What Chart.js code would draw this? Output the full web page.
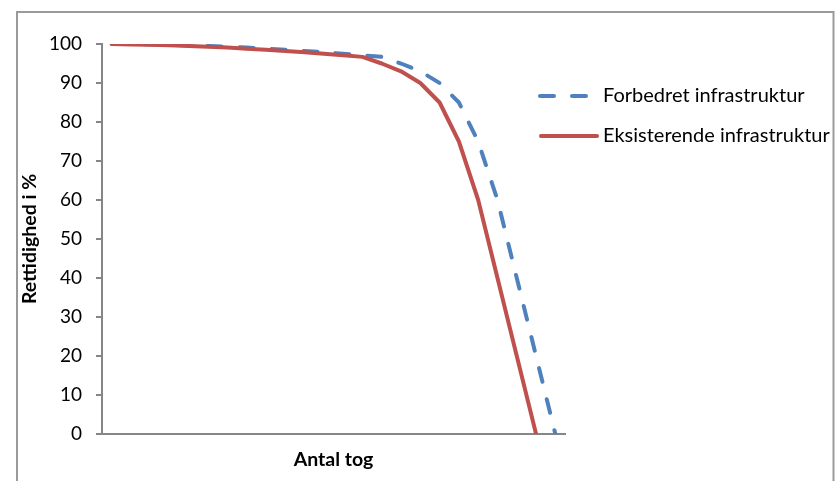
<!DOCTYPE html>
<html>
<head>
<meta charset="utf-8">
<script src="https://cdn.jsdelivr.net/npm/chart.js@4"></script>
<style>
  html, body { margin: 0; padding: 0; background: #fff; }
  #wrap { width: 835px; height: 481px; position: relative; }
</style>
</head>
<body>
<div id="wrap"><canvas id="chart"></canvas></div>
<script>
// Categories on the x axis (no labels shown in the original)
const categories = ['1','2','3','4','5','6','7','8','9','10','11','12',
                    '13','14','15','16','17','18','19','20','21','22','23','24'];

// Forbedret infrastruktur (blue, dashed)
const forbedret = [100, 100, 99.9, 99.8, 99.7, 99.5, 99.3, 99.1, 98.8, 98.5, 98.2, 97.9,
                   97.5, 97.1, 96.7, 95, 93, 90, 85, 75, 60, 40, 20, 0];

// Eksisterende infrastruktur (red, solid)
const eksisterende = [100, 99.9, 99.8, 99.7, 99.5, 99.3, 99.1, 98.8, 98.5, 98.2, 97.9, 97.5,
                      97.1, 96.7, 95, 93, 90, 85, 75, 60, 40, 20, 0, null];

const yTicks = [0, 10, 20, 30, 40, 50, 60, 70, 80, 90, 100];

const BLUE = '#4F81BD';
const RED = '#C0504D';
const AXIS = '#868686';

// Frame around the chart (top, left, right edges)
const framePlugin = {
    id: 'frame',
    beforeDraw(chart) {
        const ctx = chart.ctx;
        ctx.save();
        ctx.strokeStyle = '#9a9a9a';
        ctx.lineWidth = 2;
        ctx.beginPath();
        ctx.moveTo(17, 481);
        ctx.lineTo(17, 12);
        ctx.lineTo(833.5, 12);
        ctx.lineTo(833.5, 481);
        ctx.stroke();
        ctx.restore();
    }
};

// Legend drawn to the right, overlapping the plot's right edge like the original
const legendPlugin = {
    id: 'sideLegend',
    afterDraw(chart) {
        const ctx = chart.ctx;
        const items = [
            { ds: chart.data.datasets[0], y: 96, x1: 540, x2: 588 },
            { ds: chart.data.datasets[1], y: 136, x1: 541, x2: 597 }
        ];
        ctx.save();
        items.forEach(item => {
            ctx.strokeStyle = item.ds.borderColor;
            ctx.lineWidth = item.ds.borderWidth;
            ctx.lineCap = 'round';
            ctx.setLineDash(item.ds.borderDash || []);
            ctx.beginPath();
            ctx.moveTo(item.x1, item.y);
            ctx.lineTo(item.x2, item.y);
            ctx.stroke();
            ctx.setLineDash([]);
            ctx.fillStyle = '#000';
            ctx.font = '20px Lato';
            ctx.textBaseline = 'middle';
            ctx.textAlign = 'left';
            ctx.fillText(item.ds.label, 603, item.y);
        });
        ctx.restore();
    }
};

const ctx = document.getElementById('chart').getContext('2d');
new Chart(ctx, {
    type: 'line',
    data: {
        labels: categories,
        datasets: [
            {
                label: 'Forbedret infrastruktur',
                data: forbedret,
                borderColor: BLUE,
                backgroundColor: BLUE,
                borderWidth: 4,
                borderDash: [14, 18],
                borderCapStyle: 'round',
                pointRadius: 0,
                tension: 0,
                order: 1
            },
            {
                label: 'Eksisterende infrastruktur',
                data: eksisterende,
                borderColor: RED,
                backgroundColor: RED,
                borderWidth: 4,
                borderCapStyle: 'round',
                borderJoinStyle: 'round',
                pointRadius: 0,
                tension: 0,
                order: 0
            }
        ]
    },
    options: {
        responsive: true,
        maintainAspectRatio: false,
        animation: false,
        layout: { padding: { left: 17, top: 44, right: 270, bottom: 0 } },
        plugins: {
            legend: { display: false },
            tooltip: { enabled: false }
        },
        scales: {
            x: {
                type: 'category',
                offset: true,
                grid: { display: false, drawTicks: false },
                border: { display: true, color: AXIS, width: 2 },
                ticks: { display: false },
                title: {
                    display: true,
                    text: 'Antal tog',
                    color: '#000',
                    font: { family: 'Lato', size: 19.5, weight: 'bold' },
                    padding: { top: 0, bottom: 10 }
                },
                afterFit(scale) { scale.height = 47; }
            },
            y: {
                min: 0,
                max: 100,
                afterBuildTicks(scale) { scale.ticks = yTicks.map(v => ({ value: v })); },
                grid: { drawOnChartArea: false, drawTicks: true, tickLength: 6, color: AXIS, lineWidth: 2 },
                border: { display: true, color: AXIS, width: 2 },
                ticks: {
                    color: '#000',
                    padding: 14,
                    font: { family: 'Lato', size: 19 }
                },
                title: {
                    display: true,
                    text: 'Rettidighed i %',
                    color: '#000',
                    font: { family: 'Lato', size: 19.5, weight: 'bold' },
                    padding: { top: 1, bottom: 0 }
                },
                afterFit(scale) { scale.width = 85; }
            }
        }
    },
    plugins: [framePlugin, legendPlugin]
});
</script>
</body>
</html>
